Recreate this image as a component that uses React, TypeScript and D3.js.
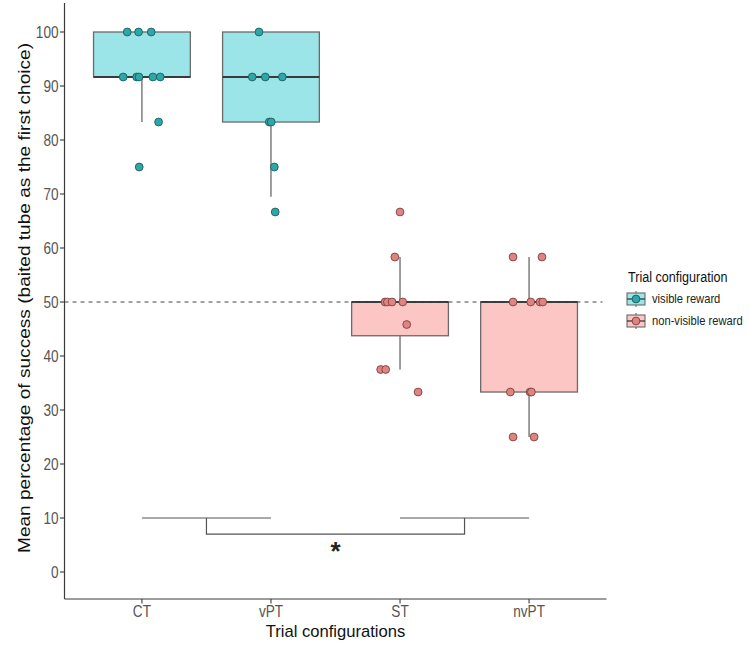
import * as d3 from "d3";

// categories and groups
const categories = ["CT", "vPT", "ST", "nvPT"];
const groupOf = ["visible", "visible", "nonvisible", "nonvisible"];
const legendLabels = ["visible reward", "non-visible reward"];
const yTicks = [0, 10, 20, 30, 40, 50, 60, 70, 80, 90, 100];

// individual scores (percent)
const ctValues = [100, 100, 100, 91.67, 91.67, 91.67, 91.67, 91.67, 83.33, 75];
const vptValues = [100, 91.67, 91.67, 91.67, 83.33, 83.33, 75, 66.67];
const stValues = [66.67, 58.33, 50, 50, 50, 50, 45.83, 37.5, 37.5, 33.33];
const nvptValues = [58.33, 58.33, 50, 50, 50, 50, 33.33, 33.33, 33.33, 25, 25];

// horizontal jitter, in category units
const ctJitter = [-0.114, -0.026, 0.072, -0.145, -0.041, -0.023, 0.085, 0.142, 0.129, -0.021];
const vptJitter = [-0.093, -0.145, -0.044, 0.088, -0.013, 0.002, 0.026, 0.033];
const stJitter = [0, -0.04, -0.116, -0.098, -0.062, 0.021, 0.052, -0.15, -0.111, 0.14];
const nvptJitter = [-0.124, 0.1, -0.124, 0.013, 0.085, 0.106, -0.145, 0.008, 0.018, -0.124, 0.039];

// box stats per category
const boxLow = [83.33, 69.5, 37.5, 25];
const boxQ1 = [91.67, 83.33, 43.75, 33.33];
const boxMedian = [91.67, 91.67, 50, 50];
const boxQ3 = [100, 100, 50, 50];
const boxHigh = [100, 100, 58.33, 58.33];

const chanceLevel = 50;
const bracketTop = 10;
const bracketBottom = 7;
const starLevel = 2;

const allValues = [ctValues, vptValues, stValues, nvptValues];
const allJitter = [ctJitter, vptJitter, stJitter, nvptJitter];

const colors: Record<string, { box: string; pt: string; ptStroke: string }> = {
    visible: { box: "#9be4e7", pt: "#2ea7a8", ptStroke: "#1f5d5e" },
    nonvisible: { box: "#fbc6c4", pt: "#e08482", ptStroke: "#7d4140" },
};

const FONT = "'Liberation Sans', Arial, sans-serif";
const STRETCH = 1.15; // source image is a bit tall

export default function App() {
    const left = 64.5;
    const right = 606.5;
    const top = 5;
    const bottom = 599;

    const x = d3.scalePoint<string>().domain(categories).range([left, right]).padding(0.6);
    const step = x.step();
    const y = d3.scaleLinear().domain([-5, 105]).range([bottom, top]);
    const boxW = step * 0.75;

    const axisColor = "#3a3a3a";
    const tickColor = "#555";
    const boxStroke = "#6a6a6a";

    const mid1 = ((x("CT") as number) + (x("vPT") as number)) / 2;
    const mid2 = ((x("ST") as number) + (x("nvPT") as number)) / 2;

    const legendItems = [
        { key: "visible", label: legendLabels[0] },
        { key: "nonvisible", label: legendLabels[1] },
    ];

    return (
        <svg
            width={749}
            height={646}
            style={{ position: "absolute", left: 0, top: 0, background: "#fff" }}
            fontFamily={FONT}
        >
            {/* boxes */}
            {categories.map((c, i) => {
                const cx = x(c) as number;
                const col = colors[groupOf[i]];
                return (
                    <g key={"box" + c}>
                        <line x1={cx} x2={cx} y1={y(boxHigh[i])} y2={y(boxQ3[i])} stroke={boxStroke} strokeWidth={1.3} />
                        <line x1={cx} x2={cx} y1={y(boxQ1[i])} y2={y(boxLow[i])} stroke={boxStroke} strokeWidth={1.3} />
                        <rect
                            x={cx - boxW / 2}
                            y={y(boxQ3[i])}
                            width={boxW}
                            height={y(boxQ1[i]) - y(boxQ3[i])}
                            fill={col.box}
                            stroke={boxStroke}
                            strokeWidth={1.3}
                        />
                        <line
                            x1={cx - boxW / 2}
                            x2={cx + boxW / 2}
                            y1={y(boxMedian[i])}
                            y2={y(boxMedian[i])}
                            stroke="#3a3a3a"
                            strokeWidth={2}
                        />
                    </g>
                );
            })}

            {/* chance level */}
            <line
                x1={left}
                x2={right - 4}
                y1={y(chanceLevel)}
                y2={y(chanceLevel)}
                stroke="#444"
                strokeWidth={1}
                strokeDasharray="4,4"
            />

            {/* points */}
            {categories.map((c, i) => {
                const cx = x(c) as number;
                const col = colors[groupOf[i]];
                return allValues[i].map((v, j) => (
                    <circle
                        key={c + j}
                        cx={cx + allJitter[i][j] * step}
                        cy={y(v)}
                        r={3.9}
                        fill={col.pt}
                        stroke={col.ptStroke}
                        strokeWidth={0.9}
                    />
                ));
            })}

            {/* significance bracket */}
            <g stroke="#555" strokeWidth={1.2} fill="none">
                <line x1={x("CT")} x2={x("vPT")} y1={y(bracketTop)} y2={y(bracketTop)} />
                <line x1={x("ST")} x2={x("nvPT")} y1={y(bracketTop)} y2={y(bracketTop)} />
                <path
                    d={`M${mid1},${y(bracketTop)}V${y(bracketBottom)}H${mid2}V${y(bracketTop)}`}
                />
            </g>
            <text
                x={(mid1 + mid2) / 2}
                y={y(starLevel) - 1}
                textAnchor="middle"
                fontSize={26}
                fontWeight="bold"
                fill="#222"
            >
                *
            </text>

            {/* axes */}
            <line x1={left} x2={left} y1={top - 2} y2={bottom} stroke={axisColor} strokeWidth={1.2} />
            <line x1={left} x2={right} y1={bottom} y2={bottom} stroke={axisColor} strokeWidth={1.2} />
            {yTicks.map((t) => (
                <g key={"yt" + t}>
                    <line x1={left - 4.5} x2={left} y1={y(t)} y2={y(t)} stroke={axisColor} strokeWidth={1.1} />
                    <text
                        transform={`translate(${left - 6},${y(t)}) scale(1,${STRETCH})`}
                        dy="0.36em"
                        textAnchor="end"
                        fontSize={13.6}
                        fill={tickColor}
                    >
                        {t}
                    </text>
                </g>
            ))}
            {categories.map((c) => (
                <g key={"xt" + c}>
                    <line x1={x(c)} x2={x(c)} y1={bottom} y2={bottom + 4.5} stroke={axisColor} strokeWidth={1.1} />
                    <text
                        transform={`translate(${x(c)},${bottom + 17.5}) scale(1,${STRETCH})`}
                        textAnchor="middle"
                        fontSize={13.6}
                        fill={tickColor}
                    >
                        {c}
                    </text>
                </g>
            ))}

            {/* axis titles */}
            <text
                x={(left + right) / 2}
                y={637}
                textAnchor="middle"
                fontSize={16.6}
                fill="#111"
            >
                Trial configurations
            </text>
            <text
                transform={`translate(30,298) rotate(-90) scale(${STRETCH},1)`}
                textAnchor="middle"
                fontSize={16.6}
                fill="#111"
            >
                Mean percentage of success (baited tube as the first choice)
            </text>

            {/* legend */}
            <text
                transform={`translate(628,282) scale(1,${STRETCH})`}
                fontSize={12.6}
                fill="#111"
            >
                Trial configuration
            </text>
            {legendItems.map((d, i) => {
                const cy = 299 + i * 22;
                const col = colors[d.key];
                return (
                    <g key={"lg" + d.key}>
                        <line x1={636} x2={636} y1={cy - 8} y2={cy + 8} stroke={boxStroke} strokeWidth={1.1} />
                        <rect x={627} y={cy - 6} width={18} height={12} fill={col.box} stroke={boxStroke} strokeWidth={1.1} />
                        <line x1={627} x2={645} y1={cy} y2={cy} stroke="#3a3a3a" strokeWidth={1.3} />
                        <circle cx={636} cy={cy} r={3.9} fill={col.pt} stroke={col.ptStroke} strokeWidth={0.9} />
                        <text
                            transform={`translate(652,${cy + 4}) scale(1,${STRETCH})`}
                            fontSize={11.2}
                            fill="#222"
                        >
                            {d.label}
                        </text>
                    </g>
                );
            })}
        </svg>
    );
}
